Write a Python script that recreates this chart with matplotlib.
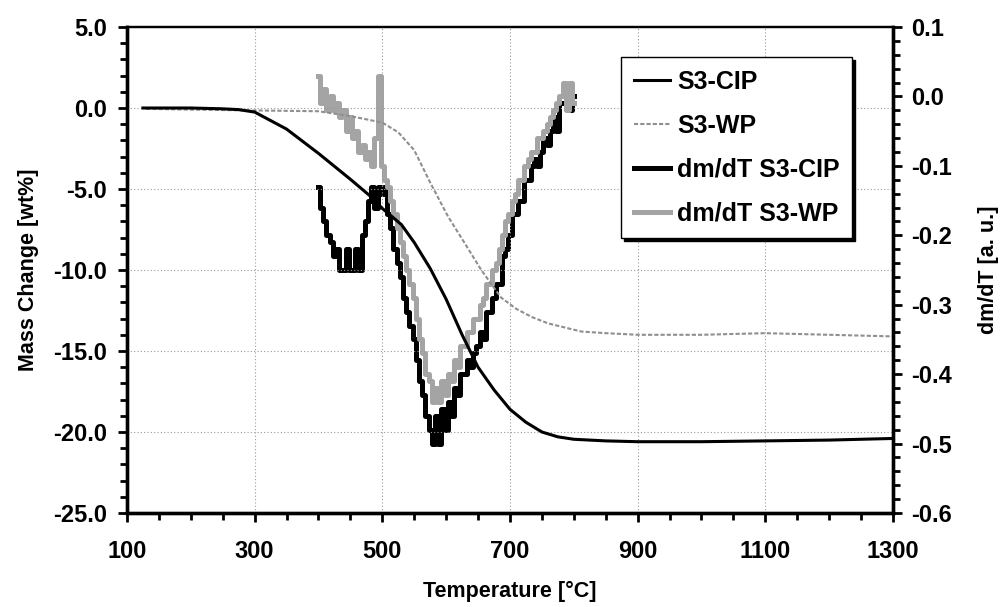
import numpy as np
import matplotlib
matplotlib.use("Agg")
import matplotlib.pyplot as plt
from matplotlib.ticker import MultipleLocator, FixedLocator, FormatStrFormatter

plt.rcParams["font.family"] = ["Liberation Sans", "DejaVu Sans"]
plt.rcParams["font.weight"] = "bold"

# TG curves (left axis, wt%)
cip_T = [125, 150, 200, 250, 275, 300, 350, 400, 450, 480, 500, 530, 550, 575,
         600, 625, 650, 675, 700, 725, 750, 775, 800, 850, 900, 950, 1000,
         1100, 1200, 1300]
cip_mass = [0.0, 0.0, 0.0, -0.05, -0.1, -0.25, -1.3, -2.8, -4.4, -5.4, -6.2,
            -7.2, -8.3, -9.9, -11.8, -14.0, -16.0, -17.4, -18.6, -19.4, -20.0,
            -20.3, -20.45, -20.55, -20.6, -20.6, -20.6, -20.55, -20.5, -20.4]

wp_T = [130, 200, 300, 400, 450, 500, 525, 550, 575, 603, 630, 655, 686, 710,
        734, 760, 812, 850, 900, 1000, 1100, 1200, 1300]
wp_mass = [-0.05, -0.1, -0.15, -0.2, -0.5, -0.9, -1.5, -2.6, -4.6, -6.7, -8.4,
           -10.0, -11.7, -12.4, -12.9, -13.3, -13.8, -13.9, -14.0, -14.0, -13.9,
           -14.0, -14.1]

# dm/dT curves (right axis, a.u.), read every 5 degC from 400 to 800
dm_T = list(range(400, 805, 5))
dm_cip = [-0.13, -0.16, -0.18, -0.20, -0.21, -0.23, -0.22, -0.25, -0.25, -0.22,
          -0.25, -0.25, -0.22, -0.25, -0.20, -0.18, -0.15, -0.13, -0.16, -0.13,
          -0.14, -0.13, -0.17, -0.19, -0.22, -0.24, -0.26, -0.29, -0.31, -0.33,
          -0.35, -0.38, -0.41, -0.43, -0.46, -0.48, -0.50, -0.46, -0.50, -0.45,
          -0.48, -0.44, -0.46, -0.42, -0.43, -0.40, -0.40, -0.38, -0.39, -0.37,
          -0.36, -0.34, -0.35, -0.31, -0.31, -0.29, -0.27, -0.27, -0.23, -0.22,
          -0.20, -0.17, -0.17, -0.15, -0.15, -0.12, -0.12, -0.10, -0.09, -0.10,
          -0.08, -0.06, -0.07, -0.05, -0.03, -0.05, -0.01, -0.01, 0.01, -0.02,
          0.00]
dm_wp = [0.03, -0.01, 0.01, -0.02, 0.00, -0.02, -0.01, -0.03, -0.02, -0.05,
         -0.03, -0.06, -0.05, -0.08, -0.07, -0.09, -0.08, -0.10, -0.06, 0.03,
         -0.10, -0.12, -0.13, -0.15, -0.17, -0.19, -0.21, -0.23, -0.25, -0.27,
         -0.29, -0.32, -0.35, -0.37, -0.40, -0.41, -0.44, -0.42, -0.44, -0.41,
         -0.43, -0.40, -0.41, -0.38, -0.39, -0.36, -0.36, -0.34, -0.34, -0.32,
         -0.32, -0.30, -0.29, -0.27, -0.27, -0.25, -0.24, -0.22, -0.20, -0.18,
         -0.17, -0.15, -0.14, -0.12, -0.12, -0.10, -0.09, -0.08, -0.08, -0.06,
         -0.06, -0.05, -0.04, -0.03, -0.02, -0.01, 0.00, 0.02, -0.02, 0.02,
         -0.01]

x_ticks = [100, 300, 500, 700, 900, 1100, 1300]

FS = 17      # tick labels
LEGFS = 18   # legend
LFS = 15.5   # axis labels
GRAY = "#8f8f8f"

fig = plt.figure(figsize=(10.02, 6.07), dpi=100)
ax = fig.add_axes([0.1267, 0.1549, 0.7645, 0.8006])
ax2 = ax.twinx()

# dm/dT on right axis
l3, = ax2.plot(dm_T, dm_cip, color="black", lw=3.6, drawstyle="steps-mid",
               label="dm/dT S3-CIP", zorder=2)
l4, = ax2.plot(dm_T, dm_wp, color="#a4a4a4", lw=3.6, drawstyle="steps-mid",
               label="dm/dT S3-WP", zorder=3)

# TG on left axis (drawn above the dm/dT curves)
ax.set_zorder(ax2.get_zorder() + 1)
ax.patch.set_visible(False)
l2, = ax.plot(wp_T, wp_mass, color=GRAY, lw=1.5, ls=(0, (2, 1)), label="S3-WP")
l1, = ax.plot(cip_T, cip_mass, color="black", lw=2.2, label="S3-CIP")

ax.set_xlim(100, 1300)
ax.set_ylim(-25, 5)
ax2.set_ylim(-0.6, 0.1)

ax.xaxis.set_major_locator(FixedLocator(x_ticks))
ax.xaxis.set_minor_locator(MultipleLocator(50))
ax.yaxis.set_major_locator(MultipleLocator(5))
ax.yaxis.set_minor_locator(MultipleLocator(1))
ax.yaxis.set_major_formatter(FormatStrFormatter("%.1f"))
ax2.yaxis.set_major_locator(MultipleLocator(0.1))
ax2.yaxis.set_minor_locator(MultipleLocator(0.02))
ax2.yaxis.set_major_formatter(FormatStrFormatter("%.1f"))

ax.grid(True, which="major", color="#9a9a9a", ls=(0, (1, 2)), lw=0.8)

for a in (ax, ax2):
    a.tick_params(which="major", direction="out", length=6.5, width=2,
                  labelsize=FS)
    a.tick_params(which="minor", direction="out", length=5, width=2)
    for s in a.spines.values():
        s.set_linewidth(2.4)
    a.spines["top"].set_linewidth(1.6)
ax.tick_params(axis="x", which="major", pad=13)
ax.tick_params(axis="y", which="major", pad=8)
ax2.tick_params(axis="y", which="major", pad=6.5)

ax.set_xlabel("Temperature [°C]", fontsize=LFS, fontweight="bold", labelpad=13)
ax.set_ylabel("Mass Change [wt%]", fontsize=LFS, fontweight="bold", labelpad=10)
ax2.set_ylabel("dm/dT [a. u.]", fontsize=LFS, fontweight="bold", labelpad=19)

leg = ax.legend([l1, l2, l3, l4], ["S3-CIP", "S3-WP", "dm/dT S3-CIP", "dm/dT S3-WP"],
                loc="upper left", bbox_to_anchor=(0.645, 0.938),
                borderaxespad=0, fontsize=LEGFS, frameon=True, fancybox=False,
                shadow={"color": "black", "alpha": 1.0},
                handlelength=1.45, handletextpad=0.3, labelspacing=0.8,
                borderpad=0.5)
leg.get_frame().set_edgecolor("black")
leg.get_frame().set_linewidth(1.0)
leg.get_frame().set_alpha(1.0)

fig.savefig("out.png", dpi=100)
